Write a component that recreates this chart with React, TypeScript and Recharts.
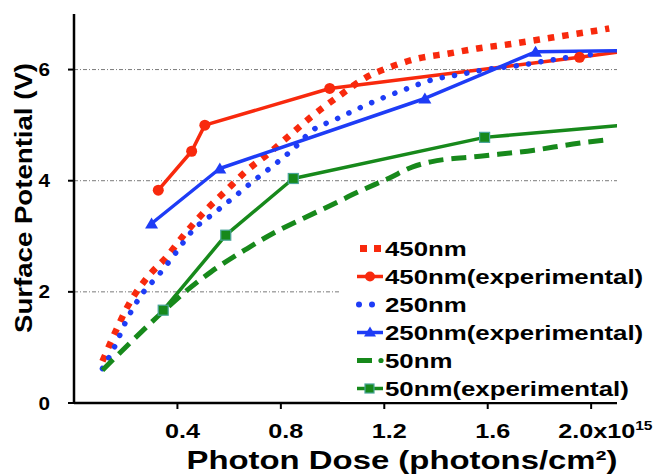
import React from 'react';
import { LineChart, Line, XAxis, YAxis, CartesianGrid, Legend } from 'recharts';

const RED = '#f8290d';
const BLUE = '#1e3cf6';
const GREEN = '#17891b';
const TEAL = '#4aa59a';
const FONT = "'Liberation Sans', Arial, Helvetica, sans-serif";

// dose in 1e15 photons/cm^2, potential in V
const model450Dose = [0.11, 0.16, 0.21, 0.28, 0.36, 0.43, 0.51, 0.59, 0.67, 0.75, 0.83, 0.92, 1.03, 1.13, 1.22, 1.33, 1.45, 1.56, 1.69, 1.8, 1.91, 2.02, 2.07];
const model450Potential = [0.75, 1.28, 1.76, 2.24, 2.64, 3.05, 3.47, 3.83, 4.19, 4.48, 4.8, 5.16, 5.54, 5.86, 6.04, 6.2, 6.29, 6.38, 6.46, 6.54, 6.62, 6.7, 6.74];

const model250Dose = [0.11, 0.16, 0.2, 0.26, 0.33, 0.39, 0.46, 0.54, 0.62, 0.69, 0.77, 0.85, 0.92, 1.01, 1.1, 1.2, 1.29, 1.38, 1.48, 1.58, 1.73, 1.83, 1.93, 2.04];
const model250Potential = [0.62, 1.04, 1.46, 1.94, 2.32, 2.68, 3.11, 3.41, 3.71, 3.98, 4.27, 4.58, 4.9, 5.1, 5.3, 5.5, 5.66, 5.81, 5.9, 5.99, 6.08, 6.16, 6.23, 6.29];

const model50Dose = [0.11, 0.35, 0.43, 0.53, 0.67, 0.78, 0.89, 0.99, 1.1, 1.22, 1.31, 1.38, 1.57, 1.78, 1.93, 2.07];
const model50Potential = [0.59, 1.67, 2.0, 2.36, 2.78, 3.08, 3.33, 3.55, 3.8, 4.05, 4.25, 4.34, 4.44, 4.55, 4.66, 4.74];

const exp450Dose = [0.326, 0.455, 0.506, 0.989, 1.955, 2.1];
const exp450Potential = [3.83, 4.53, 5.0, 5.66, 6.22, 6.31];
const exp250Dose = [0.3, 0.564, 1.357, 1.785, 2.1];
const exp250Potential = [3.23, 4.22, 5.48, 6.32, 6.34];
const exp50Dose = [0.345, 0.587, 0.848, 1.588, 2.1];
const exp50Potential = [1.67, 3.02, 4.04, 4.78, 4.99];

const xTicks = [0.4, 0.8, 1.2, 1.6, 2.0];
const yTicks = [0, 2, 4, 6];
const gridValues = [2, 4, 6];

const toRows = (dose: number[], potential: number[]) =>
  dose.map((d, i) => ({ dose: d, potential: potential[i] }));

type Marker = 'circle' | 'triangle' | 'square';

function ExpDot(props: any) {
  const { cx, cy, index, marker, count } = props;
  if (cx == null || cy == null || index === count - 1) return <g key={`d${index}`} />;
  if (marker === 'circle') return <circle key={`d${index}`} cx={cx} cy={cy} r={5.5} fill={RED} />;
  if (marker === 'triangle')
    return (
      <polygon
        key={`d${index}`}
        points={`${cx},${cy - 6} ${cx + 6.5},${cy + 5} ${cx - 6.5},${cy + 5}`}
        fill={BLUE}
      />
    );
  return <rect key={`d${index}`} x={cx - 5} y={cy - 5} width={10} height={10} fill={GREEN} stroke={TEAL} strokeWidth={1.2} />;
}

function DoseTick({ x, y, payload }: any) {
  const v = payload.value as number;
  const common = { fontFamily: FONT, fontWeight: 'bold' as const, fill: '#000' };
  if (v === 2) {
    return (
      <g transform={`translate(${x - 33}, ${y + 27}) scale(1.2, 1)`}>
        <text x={0} y={0} fontSize={21} {...common}>
          2.0x10
          <tspan dy={-8} fontSize={13}>15</tspan>
        </text>
      </g>
    );
  }
  return (
    <g transform={`translate(${x + 5}, ${y + 27}) scale(1.2, 1)`}>
      <text x={0} y={0} fontSize={21} textAnchor="middle" {...common}>
        {v.toFixed(1)}
      </text>
    </g>
  );
}

function PotentialTick({ x, y, payload }: any) {
  return (
    <g transform={`translate(${x}, ${y + 6.5}) scale(1.15, 1)`}>
      <text x={0} y={0} fontSize={18} textAnchor="end" fontFamily={FONT} fontWeight="bold" fill="#000">
        {payload.value}
      </text>
    </g>
  );
}

function LegendSymbol({ name, cy }: { name: string; cy: number }) {
  switch (name) {
    case '450nm':
      return <line x1={20} x2={42} y1={cy} y2={cy} stroke={RED} strokeWidth={7} strokeDasharray="7 7" />;
    case '450nm(experimental)':
      return (
        <g>
          <line x1={17} x2={43} y1={cy} y2={cy} stroke={RED} strokeWidth={3.5} />
          <circle cx={30} cy={cy} r={5} fill={RED} />
        </g>
      );
    case '250nm':
      return (
        <g fill={BLUE}>
          <circle cx={19} cy={cy} r={3} />
          <circle cx={32} cy={cy} r={3} />
        </g>
      );
    case '250nm(experimental)':
      return (
        <g>
          <line x1={17} x2={43} y1={cy} y2={cy} stroke={BLUE} strokeWidth={3.5} />
          <polygon points={`30,${cy - 6} 36,${cy + 4} 24,${cy + 4}`} fill={BLUE} />
        </g>
      );
    case '50nm':
      return (
        <g>
          <line x1={17} x2={32} y1={cy} y2={cy} stroke={GREEN} strokeWidth={5} />
          <circle cx={41} cy={cy} r={2.6} fill={GREEN} />
        </g>
      );
    default:
      return (
        <g>
          <line x1={17} x2={43} y1={cy} y2={cy} stroke={GREEN} strokeWidth={3.5} />
          <rect x={25} y={cy - 4.5} width={9} height={9} fill={GREEN} stroke={TEAL} strokeWidth={1.2} />
        </g>
      );
  }
}

const series = [
  { name: '450nm', data: toRows(model450Dose, model450Potential), color: RED, width: 6.5, dash: '6.5 8', cap: 'butt', marker: null },
  { name: '450nm(experimental)', data: toRows(exp450Dose, exp450Potential), color: RED, width: 3.5, dash: undefined, cap: 'round', marker: 'circle' },
  { name: '250nm', data: toRows(model250Dose, model250Potential), color: BLUE, width: 5.5, dash: '0.1 12.4', cap: 'round', marker: null },
  { name: '250nm(experimental)', data: toRows(exp250Dose, exp250Potential), color: BLUE, width: 3.5, dash: undefined, cap: 'round', marker: 'triangle' },
  { name: '50nm', data: toRows(model50Dose, model50Potential), color: GREEN, width: 5, dash: '15 8', cap: 'butt', marker: null },
  { name: '50nm(experimental)', data: toRows(exp50Dose, exp50Potential), color: GREEN, width: 3.5, dash: undefined, cap: 'round', marker: 'square' },
] as const;

const seriesOrder: string[] = series.map((s) => s.name);

function LegendBox({ payload }: any) {
  const items = [...((payload || []) as Array<{ value: string }>)].sort(
    (a, b) => seriesOrder.indexOf(a.value) - seriesOrder.indexOf(b.value),
  );
  return (
    <svg width={310} height={168} style={{ display: 'block', background: '#fff' }}>
      {items.map((entry, i) => {
        const cy = 14.5 + i * 28;
        return (
          <g key={entry.value}>
            <LegendSymbol name={entry.value} cy={cy} />
            <g transform={`translate(45, ${cy + 7.5}) scale(1.23, 1)`}>
              <text x={0} y={0} fontSize={21} fontFamily={FONT} fontWeight="bold" fill="#000">
                {entry.value}
              </text>
            </g>
          </g>
        );
      })}
    </svg>
  );
}

export default function App() {
  return (
    <div style={{ position: 'absolute', left: 0, top: 0, width: 670, height: 475, background: '#fff' }}>
      <LineChart width={670} height={475} margin={{ top: 14, right: 53, bottom: 12, left: 24 }}>
        <CartesianGrid
          horizontal
          vertical={false}
          horizontalValues={gridValues}
          stroke="#7a7a7a"
          strokeWidth={1}
          strokeDasharray="4 2 1 2"
        />
        <XAxis
          dataKey="dose"
          type="number"
          domain={[0, 2.1]}
          ticks={xTicks}
          allowDataOverflow
          height={60}
          tickSize={6}
          tickMargin={2}
          axisLine={{ stroke: '#000', strokeWidth: 2.5 }}
          tickLine={{ stroke: '#000', strokeWidth: 2 }}
          tick={<DoseTick />}
          label={() => (
            <text
              x={402}
              y={469}
              textAnchor="middle"
              fontSize={26}
              fontFamily={FONT}
              fontWeight="bold"
              fill="#000"
              textLength={431}
              lengthAdjust="spacingAndGlyphs"
            >
              Photon Dose (photons/cm²)
            </text>
          )}
        />
        <YAxis
          dataKey="potential"
          type="number"
          domain={[0, 7]}
          ticks={yTicks}
          width={50}
          tickSize={6}
          tickMargin={18}
          axisLine={{ stroke: '#000', strokeWidth: 2.5 }}
          tickLine={{ stroke: '#000', strokeWidth: 2 }}
          tick={<PotentialTick />}
          label={() => (
            <text
              x={32}
              y={198}
              transform="rotate(-90, 32, 198)"
              textAnchor="middle"
              fontSize={24}
              fontFamily={FONT}
              fontWeight="bold"
              fill="#000"
              textLength={270}
              lengthAdjust="spacingAndGlyphs"
            >
              Surface Potential (V)
            </text>
          )}
        />
        {series.map((s) => (
          <Line
            key={s.name}
            name={s.name}
            data={s.data as any}
            dataKey="potential"
            type={s.marker ? 'linear' : 'monotone'}
            stroke={s.color}
            strokeWidth={s.width}
            strokeDasharray={s.dash}
            strokeLinecap={s.cap as any}
            strokeLinejoin="round"
            dot={
              s.marker
                ? (p: any) => <ExpDot {...p} marker={s.marker as Marker} count={s.data.length} />
                : false
            }
            activeDot={false}
            isAnimationActive={false}
          />
        ))}
        <Legend
          layout="horizontal"
          verticalAlign="middle"
          align="center"
          content={<LegendBox />}
          wrapperStyle={{ left: 340, top: 234, width: 310, height: 168 }}
        />
      </LineChart>
    </div>
  );
}
